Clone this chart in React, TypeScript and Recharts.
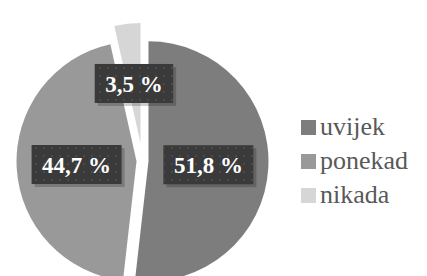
import { PieChart, Pie, Cell, Legend } from "recharts";

const categories = ["uvijek", "ponekad", "nikada"];
const shares = [51.8, 44.7, 3.5];
const shareLabels = ["51,8 %", "44,7 %", "3,5 %"];
const colors = ["#7d7d7d", "#999999", "#d6d6d6"];

const data = categories.map((name, i) => ({ name, value: shares[i] }));

// how far each slice is pulled out of the pie (px)
const explode = [6, 6, 18];
const CX = 137.5;
const CY = 156;
const R = 120;
const RAD = Math.PI / 180;

const total = shares.reduce((a, b) => a + b, 0);
const midAngles = shares.map((v, i) => {
  const before = shares.slice(0, i).reduce((a, b) => a + b, 0);
  return 90 - (360 * (before + v / 2)) / total;
});

const serif = "'Liberation Serif', 'Times New Roman', serif";

// rough Times Bold advance widths in em
const textWidth = (s: string, size: number) =>
  s.split("").reduce((w, ch) => {
    if (ch === "%") return w + 1.0;
    if (ch === "," || ch === " ") return w + 0.25;
    return w + 0.5;
  }, 0) * size;

const renderLabel = (only: number) => (props: any) => {
  if (props.index !== only) return null;
  const { cx, cy, midAngle, outerRadius } = props;
  const x = cx + outerRadius * 0.5 * Math.cos(-midAngle * RAD);
  const y = cy + outerRadius * 0.5 * Math.sin(-midAngle * RAD);
  const text = shareLabels[only];
  const w = textWidth(text, 23) + 21;
  const h = 39;
  return (
    <g>
      <rect x={x - w / 2 + 3} y={y - h / 2 + 3} width={w} height={h} fill="#000" opacity={0.2} />
      <rect x={x - w / 2} y={y - h / 2} width={w} height={h} fill="#3a3a3a" />
      <rect x={x - w / 2} y={y - h / 2} width={w} height={h} fill="url(#dots)" />
      <text
        x={x}
        y={y + 1}
        textAnchor="middle"
        dominantBaseline="central"
        fill="#ffffff"
        fontFamily={serif}
        fontWeight="bold"
        fontSize={23}
      >
        {text}
      </text>
    </g>
  );
};

const LegendBox = () => (
  <div style={{ fontFamily: serif, fontSize: 26, color: "#595959" }}>
    {categories.map((c, i) => (
      <div key={c} style={{ display: "flex", alignItems: "baseline", height: 34, lineHeight: "34px" }}>
        <span style={{ display: "inline-block", width: 15, height: 15, background: colors[i], marginRight: 4 }} />
        <span>{c}</span>
      </div>
    ))}
  </div>
);

export default function App() {
  return (
    <div style={{ position: "absolute", left: 0, top: 0, background: "#fff" }}>
      <PieChart width={427} height={276}>
        <defs>
          <pattern id="dots" width="8" height="8" patternUnits="userSpaceOnUse">
            <rect x="3" y="3" width="2" height="2" fill="#4a4a4a" />
          </pattern>
        </defs>
        {categories.map((c, k) => (
          <Pie
            key={c}
            data={data}
            dataKey="value"
            nameKey="name"
            cx={CX + explode[k] * Math.cos(midAngles[k] * RAD)}
            cy={CY - explode[k] * Math.sin(midAngles[k] * RAD)}
            outerRadius={R}
            startAngle={90}
            endAngle={-270}
            stroke="none"
            labelLine={false}
            label={renderLabel(k)}
            isAnimationActive={false}
          >
            {data.map((d, i) => (
              <Cell key={d.name} fill={i === k ? colors[i] : "none"} stroke="none" />
            ))}
          </Pie>
        ))}
        <Legend
          content={<LegendBox />}
          wrapperStyle={{ left: 301, top: 110, width: 126, bottom: "auto", right: "auto" }}
        />
      </PieChart>
    </div>
  );
}
